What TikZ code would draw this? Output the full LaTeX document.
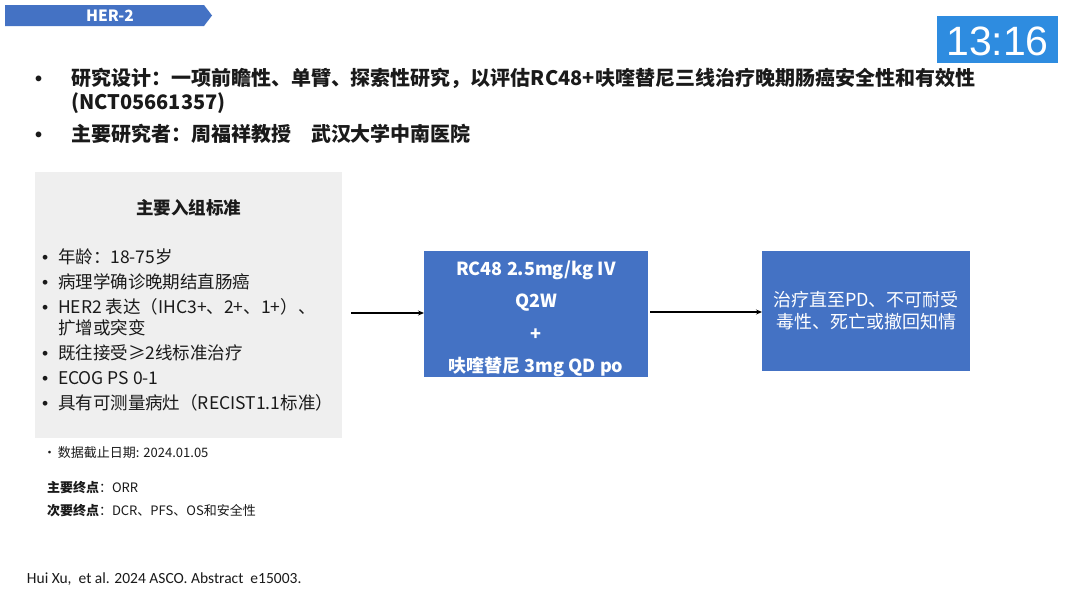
\documentclass[tikz,border=0pt]{standalone}
\usepackage{fontspec}
\usetikzlibrary{arrows.meta}
\setmainfont{Noto Sans CJK SC}
\newfontfamily\arialf{Liberation Sans}
\newfontfamily\calibf{Carlito}
\definecolor{bannerblue}{HTML}{4472C4}
\definecolor{boxblue}{HTML}{4472C4}
\definecolor{timerblue}{HTML}{2E8CE0}
\definecolor{critgray}{HTML}{EFEFEF}
\definecolor{txt}{HTML}{1A1A1A}
\begin{document}
\begin{tikzpicture}[x=1pt,y=-1pt,
  every node/.style={inner sep=0pt, outer sep=0pt, text=txt},
  head/.style={anchor=base west, font=\fontsize{20}{24}\selectfont\bfseries},
  crit/.style={anchor=base west, font=\fontsize{17.5}{20}\selectfont},
  critdot/.style={anchor=base west, font=\arialf\fontsize{17.5}{20}\selectfont},
  small/.style={anchor=base west, font=\fontsize{13}{15}\selectfont},
  boxtxt/.style={text=white, font=\fontsize{18}{21}\selectfont\bfseries},
  boxtxtn/.style={text=white, font=\fontsize{18}{21}\selectfont},
  conn/.style={draw=black, line width=1.1pt, -{Stealth[length=6pt,width=5pt]}}
]
\useasboundingbox[fill=white] (0,0) rectangle (1080,600);
% banner
\fill[bannerblue] (5,5) -- (204,5) -- (212,15.5) -- (204,26) -- (5,26) -- cycle;
\node[text=white, font=\fontsize{15.5}{18}\selectfont\bfseries] (her) at (110,15.5) {HER-2};
% timer
\node[fill=timerblue, minimum width=121pt, minimum height=47pt] (timer) at (997.5,39.5) {};
\node[text=white, font=\arialf\fontsize{41}{45}\selectfont] (timertxt) at (997.5,41) {13:16};
% header bullets
\node[head, font=\arialf\fontsize{20}{24}\selectfont\bfseries] (d1) at (35,85) {•};
\node[head] (h1) at (71,85) {研究设计：一项前瞻性、单臂、探索性研究，以评估RC48+呋喹替尼三线治疗晚期肠癌安全性和有效性};
\node[head] (h2) at (71,109) {(NCT05661357)};
\node[head, font=\arialf\fontsize{20}{24}\selectfont\bfseries] (d2) at (35,141) {•};
\node[head] (h3) at (71,141) {主要研究者：周福祥教授\hspace{1em}武汉大学中南医院};
% criteria box
\node[fill=critgray, minimum width=307pt, minimum height=266pt] (critbox) at (188.5,305) {};
\node[font=\fontsize{17.5}{20}\selectfont\bfseries] (ctitle) at (188.5,208) {主要入组标准};
\foreach \yy/\tt/\dd in {263/{年龄：18-75岁}/1,288/{病理学确诊晚期结直肠癌}/1,313/{HER2 表达（IHC3+、2+、1+）、}/1,334/{扩增或突变}/0,359/{既往接受≥2线标准治疗}/1,384/{ECOG PS 0-1}/1,409/{具有可测量病灶（RECIST1.1标准）}/1}{
  \node[crit] (c\yy) at (58,\yy) {\tt};
  \ifnum\dd=1 \node[critdot] (cd\yy) at (42,\yy) {•}; \fi
}
% small texts
\node[small] (cut) at (43,457) {·\hspace{2pt}数据截止日期: 2024.01.05};
\node[small] (pe) at (47,492) {\textbf{主要终点}：ORR};
\node[small] (se) at (47,515) {\textbf{次要终点}：DCR、PFS、OS和安全性};
% treatment box
\node[fill=boxblue, minimum width=224pt, minimum height=126pt] (rc48) at (536,314) {};
\node[boxtxt] (t1) at (536,270) {RC48 2.5mg/kg IV};
\node[boxtxt] (t2) at (536,303) {Q2W};
\node[boxtxt] (t3) at (536,335) {+};
\node[boxtxt] (t4) at (536,367) {呋喹替尼 3mg QD po};
% outcome box
\node[fill=boxblue, minimum width=208pt, minimum height=120pt] (outbox) at (866,311) {};
\node[boxtxtn] (o1) at (866,300) {治疗直至PD、不可耐受};
\node[boxtxtn] (o2) at (866,322) {毒性、死亡或撤回知情};
% connectors
\coordinate (a1) at (351,313);
\draw[conn] (a1) -- (a1 -| rc48.west);
\coordinate (a2) at (650,312);
\draw[conn] (a2) -- (a2 -| outbox.west);
% footer
\node[anchor=base west, font=\calibf\fontsize{15.5}{18}\selectfont] (foot) at (27,583) {Hui Xu,\ \ et al. 2024 ASCO. Abstract\ \ e15003.};
\end{tikzpicture}
\end{document}
